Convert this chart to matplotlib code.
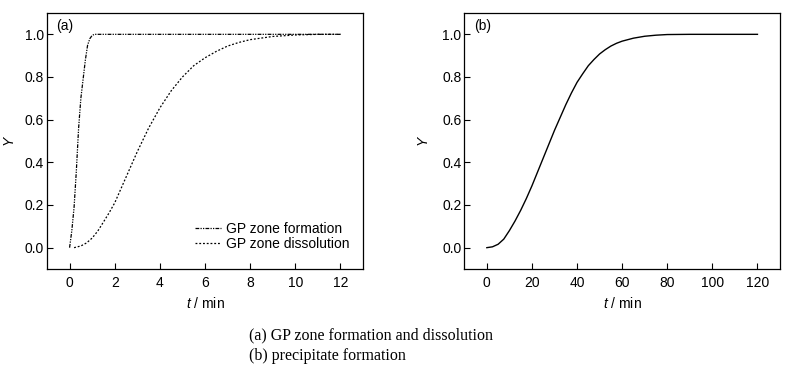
import matplotlib
matplotlib.use("Agg")
import matplotlib.pyplot as plt

plt.rcParams['font.family'] = ['Liberation Sans', 'DejaVu Sans']
plt.rcParams['mathtext.fontset'] = 'custom'
plt.rcParams['mathtext.rm'] = 'Liberation Sans'
plt.rcParams['mathtext.it'] = 'Liberation Sans:italic'

# Panel (a): GP zone formation
t_form = [0, 0.1, 0.2, 0.3, 0.4, 0.5, 0.6, 0.7, 0.8, 0.9, 1.0, 1.1, 1.2, 2, 4, 6, 8, 10, 12]
y_form = [0, 0.08, 0.19, 0.36, 0.56, 0.70, 0.79, 0.88, 0.95, 0.98, 0.995, 1.0, 1.0, 1.0, 1.0, 1.0, 1.0, 1.0, 1.0]

# Panel (a): GP zone dissolution
t_diss = [0.2, 0.5, 0.75, 1.0, 1.25, 1.5, 1.75, 2.0, 2.5, 3.0, 3.5, 4.0, 4.5, 5.0, 5.5, 6.0, 6.5, 7.0, 7.5, 8.0, 9.0, 10.0, 11.0, 12.0]
y_diss = [0, 0.008, 0.022, 0.045, 0.078, 0.12, 0.163, 0.21, 0.33, 0.45, 0.56, 0.655, 0.735, 0.80, 0.853, 0.89, 0.92, 0.945, 0.962, 0.975, 0.99, 0.997, 1.0, 1.0]

# Panel (b): precipitate formation
t_prec = [0, 2.5, 5, 7.5, 10, 12.5, 15, 17.5, 20, 22.5, 25, 27.5, 30, 32.5, 35, 37.5, 40,
          42.5, 45, 47.5, 50, 52.5, 55, 57.5, 60, 65, 70, 75, 80, 90, 100, 110, 120]
y_prec = [0, 0.004, 0.016, 0.04, 0.08, 0.125, 0.175, 0.23, 0.29, 0.355, 0.42, 0.485, 0.55, 0.61, 0.67, 0.725, 0.775,
          0.815, 0.853, 0.882, 0.908, 0.928, 0.945, 0.958, 0.968, 0.982, 0.991, 0.996, 0.999, 1.0, 1.0, 1.0, 1.0]

xticks_a = [0, 2, 4, 6, 8, 10, 12]
xticks_b = [0, 20, 40, 60, 80, 100, 120]
yticks = [0.0, 0.2, 0.4, 0.6, 0.8, 1.0]

fig = plt.figure(figsize=(7.97, 3.80), dpi=100)
ax1 = fig.add_axes([47/797, 1-269/380, 316/797, 256/380])
ax2 = fig.add_axes([464.3/797, 1-269/380, 315.7/797, 256/380])

ax1.plot(t_form, y_form, color='black', lw=0.9, linestyle=(0, (3, 1, 1, 1, 1, 1)), label='GP zone formation')
ax1.plot(t_diss, y_diss, color='black', lw=0.9, linestyle=(0, (1.5, 1.5)), label='GP zone dissolution')
ax2.plot(t_prec, y_prec, color='black', lw=1.0)

for ax, xt, xl, ylx in [(ax1, xticks_a, (-1, 13), -30/316), (ax2, xticks_b, (-10, 130), -33/316)]:
    ax.set_xlim(*xl)
    ax.set_ylim(-0.1, 1.1)
    ax.set_xticks(xt)
    ax.set_yticks(yticks)
    ax.set_yticklabels([f"{v:.1f}" for v in yticks])
    ax.tick_params(direction='in', length=4, width=0.8, labelsize=10)
    ax.tick_params(axis='y', pad=2)
    ax.tick_params(axis='x', pad=5)
    for s in ax.spines.values():
        s.set_linewidth(0.9)
    ax.set_xlabel(r"$t$ / min", fontsize=10, labelpad=4)
    ax.set_ylabel(r"$Y$", fontsize=10)
    ax.yaxis.set_label_coords(ylx, 0.5)

ax1.text(0.03, 0.975, "(a)", transform=ax1.transAxes, fontsize=10, va='top', ha='left')
ax2.text(0.03, 0.975, "(b)", transform=ax2.transAxes, fontsize=10, va='top', ha='left')

ax1.legend(loc='lower right', frameon=False, fontsize=10, handlelength=1.9, handletextpad=0.3,
           labelspacing=0.12, borderaxespad=0.6, bbox_to_anchor=(1.0, 0.015))

fig.text(249/797, 1-335/380, "(a) GP zone formation and dissolution", fontsize=11.5,
         family=['Liberation Serif'], ha='left', va='center')
fig.text(249/797, 1-356/380, "(b) precipitate formation", fontsize=11.5,
         family=['Liberation Serif'], ha='left', va='center')

fig.savefig("out.png", dpi=100)
